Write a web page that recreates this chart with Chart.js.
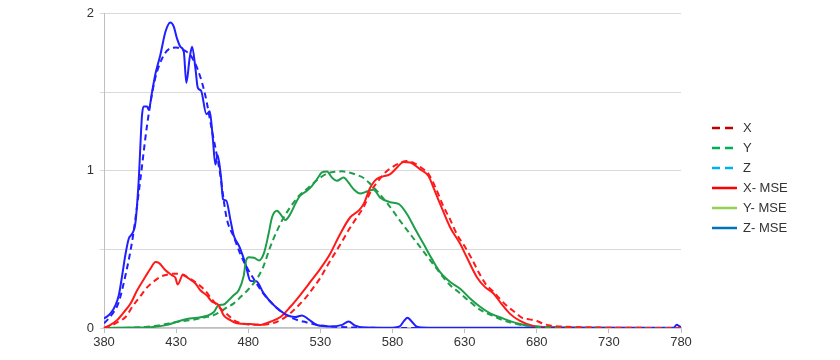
<!DOCTYPE html>
<html>
<head>
<meta charset="utf-8">
<script src="https://cdn.jsdelivr.net/npm/chart.js@4.4.1/dist/chart.umd.min.js"></script>
<style>
html,body{margin:0;padding:0;background:#fff}
#wrap{width:840px;height:360px}
</style>
</head>
<body>
<div id="wrap"><canvas id="chart1" width="840" height="360"></canvas></div>
<script>
// wavelengths (nm) and values
const wlX = [380,385,390,395,400,405,410,415,420,425,430,435,440,445,450,455,460,465,470,475,480,485,490,495,500,505,510,515,520,525,530,535,540,545,550,555,560,565,570,575,580,585,590,595,600,605,610,615,620,625,630,635,640,645,650,655,660,665,670,675,680,685,690,700,720,750,780];
const xBar = [0,0.015,0.04,0.07,0.14,0.2,0.26,0.3,0.33,0.342,0.346,0.336,0.312,0.28,0.24,0.18,0.13,0.09,0.05,0.03,0.022,0.02,0.02,0.026,0.04,0.065,0.1,0.145,0.195,0.255,0.32,0.4,0.475,0.55,0.63,0.7,0.77,0.87,0.935,0.99,1.025,1.05,1.063,1.05,1.02,0.98,0.89,0.78,0.69,0.59,0.52,0.44,0.35,0.275,0.23,0.18,0.135,0.1,0.065,0.055,0.045,0.025,0.015,0.008,0.003,0.001,0];

const wlY = [380,390,400,410,420,430,440,445,450,455,460,465,470,475,480,485,490,495,500,505,510,515,520,525,530,535,540,545,550,555,560,565,570,575,580,585,590,595,600,605,610,615,620,625,630,635,640,645,650,655,660,665,670,680,690,700,720,780];
const yBar = [0,0,0.003,0.008,0.02,0.038,0.05,0.058,0.068,0.078,0.1,0.13,0.157,0.2,0.245,0.3,0.38,0.51,0.62,0.71,0.78,0.84,0.88,0.92,0.958,0.985,0.995,0.997,0.99,0.975,0.955,0.913,0.865,0.81,0.75,0.685,0.625,0.565,0.505,0.445,0.385,0.325,0.272,0.235,0.195,0.157,0.12,0.095,0.075,0.055,0.04,0.028,0.018,0.008,0.004,0.002,0.001,0];

const wlZ = [380,385,390,395,400,405,410,415,420,425,430,435,440,445,450,455,460,465,470,475,480,485,490,495,500,505,510,515,520,525,530,540,550,560,580,780];
const zBar = [0.03,0.08,0.16,0.34,0.58,0.93,1.3,1.57,1.71,1.775,1.785,1.77,1.735,1.645,1.49,1.25,1.01,0.7,0.58,0.46,0.37,0.295,0.225,0.17,0.125,0.09,0.065,0.048,0.037,0.025,0.016,0.008,0.004,0.002,0,0];

const wlXm = [380,384.5,389,393.7,398.4,403,407.6,412.2,415.7,418,422.6,427.2,429.5,431.1,434.8,438.7,443.4,446.8,451.5,454.9,459.5,463,467.6,472.2,481.5,488.4,495.3,502.3,509.2,516,523,530,536.8,543.8,550.7,556.5,560,564.6,568,571.5,578.4,583,587.6,592.3,599.2,604.9,608.4,613,620,626.9,631.5,638.4,644.2,650,655,661.5,668.4,677.6,690,700,780];
const xMse = [0,0.02,0.05,0.1,0.156,0.24,0.31,0.378,0.42,0.415,0.367,0.335,0.32,0.277,0.34,0.315,0.283,0.24,0.205,0.167,0.146,0.08,0.05,0.03,0.025,0.019,0.04,0.07,0.135,0.21,0.293,0.378,0.473,0.6,0.705,0.747,0.79,0.894,0.94,0.96,0.98,1.02,1.057,1.053,1.01,0.968,0.894,0.79,0.64,0.536,0.45,0.325,0.26,0.22,0.16,0.09,0.045,0.013,0.005,0.002,0];

const wlYm = [380,400,412,423.8,430.7,437.6,444.5,451.5,456,459.5,463,466.4,469.9,473.4,476.8,478.5,480.5,484,487.5,491,494.1,496.5,499.9,502.2,505.7,509.2,512.6,516,520.7,524.2,527.6,531.1,534.6,538,541.5,546.1,549.5,553,557.6,562.3,566.8,571.5,578.4,584.2,590,595.7,601.5,607.3,613,620,626.9,633.8,640.7,647.7,656.9,666.2,674,690,780];
const yMse = [0,0.003,0.005,0.02,0.04,0.057,0.065,0.078,0.1,0.146,0.15,0.177,0.209,0.24,0.33,0.43,0.45,0.447,0.43,0.48,0.6,0.705,0.747,0.726,0.688,0.726,0.79,0.842,0.873,0.905,0.947,0.99,0.996,0.958,0.937,0.958,0.926,0.884,0.856,0.869,0.88,0.83,0.8,0.79,0.726,0.63,0.536,0.44,0.356,0.293,0.25,0.188,0.135,0.093,0.06,0.03,0.015,0.005,0];

const wlZm = [380,384.5,388,390.3,392.6,394.9,397.2,399.5,401.8,404,406.4,407.6,409.9,411,413.4,415.7,419.1,422.6,426,428.3,430.7,433,435.3,437.1,439.4,441.1,443.4,445,447.3,451,453.3,455.4,457.2,458.8,461.1,462.5,464.8,467.6,469.9,474,478,481.5,485.6,490.7,497.6,506.9,512.6,517.3,521.8,527.6,536.8,545,549.5,554.2,560,580,585,588,590.4,593,597,605,700,775,777,779,780];
const zMse = [0.06,0.093,0.146,0.21,0.335,0.47,0.57,0.6,0.67,0.93,1.36,1.41,1.41,1.39,1.506,1.62,1.74,1.886,1.945,1.92,1.84,1.79,1.76,1.56,1.72,1.79,1.65,1.53,1.51,1.36,1.38,1.21,1.04,1.1,0.96,0.82,0.81,0.69,0.59,0.515,0.41,0.3,0.297,0.22,0.146,0.082,0.07,0.08,0.055,0.019,0.01,0.02,0.042,0.015,0.003,0.002,0.01,0.045,0.065,0.045,0.008,0.002,0.002,0.002,0.02,0.01,0.005];

const xTicks = [380,430,480,530,580,630,680,730,780];
const yGrid = [0,0.5,1,1.5,2];
const yLabels = [0,1,2];

const legendNames = ["X","Y","Z","X- MSE","Y- MSE","Z- MSE"];
const legendColors = ["#c00000","#00b050","#00b0f0","#ff0000","#92d050","#0070c0"];
const legendDashed = [true,true,true,false,false,false];

const RED = "#ff1a1a", GREEN = "#1f9e4a", BLUE = "#1f1fff";

function pts(wl, v) { return wl.map((w, i) => ({x: w, y: v[i]})); }

// legend drawn at the right like the original
const sideLegend = {
  id: "sideLegend",
  afterDraw(chart) {
    const c = chart.ctx;
    c.save();
    c.font = "13px 'Liberation Sans', Arial, sans-serif";
    c.textBaseline = "middle";
    legendNames.forEach((name, i) => {
      const y = 128 + i * 20;
      c.beginPath();
      c.strokeStyle = legendColors[i];
      c.lineWidth = 2.5;
      c.setLineDash(legendDashed[i] ? [8, 5] : []);
      c.moveTo(712, y);
      c.lineTo(737, y);
      c.stroke();
      c.setLineDash([]);
      c.fillStyle = "#333333";
      c.fillText(name, 743, y);
    });
    c.restore();
  }
};

let ctx1 = document.getElementById("chart1").getContext("2d");
let chart1 = new Chart(ctx1, {
  type: "line",
  data: {
    datasets: [
      {label: "X", data: pts(wlX, xBar), borderColor: RED, borderDash: [6, 4], borderWidth: 2},
      {label: "Y", data: pts(wlY, yBar), borderColor: GREEN, borderDash: [6, 4], borderWidth: 2},
      {label: "Z", data: pts(wlZ, zBar), borderColor: BLUE, borderDash: [6, 4], borderWidth: 2},
      {label: "X- MSE", data: pts(wlXm, xMse), borderColor: RED, borderWidth: 2},
      {label: "Y- MSE", data: pts(wlYm, yMse), borderColor: GREEN, borderWidth: 2},
      {label: "Z- MSE", data: pts(wlZm, zMse), borderColor: BLUE, borderWidth: 2}
    ]
  },
  options: {
    responsive: false,
    animation: false,
    parsing: false,
    elements: {
      point: {radius: 0},
      line: {cubicInterpolationMode: "monotone", fill: false}
    },
    layout: {padding: {top: 12, right: 159, left: 0, bottom: 0}},
    plugins: {legend: {display: false}, tooltip: {enabled: false}},
    scales: {
      x: {
        type: "linear", min: 380, max: 780,
        afterBuildTicks: s => { s.ticks = xTicks.map(v => ({value: v})); },
        afterFit: s => { s.height = 32; },
        grid: {drawOnChartArea: false, drawTicks: true, tickLength: 5, color: "#bfbfbf"},
        border: {color: "#bfbfbf", width: 1.5},
        ticks: {color: "#333", font: {family: "'Liberation Sans', Arial", size: 13}, padding: 2, maxRotation: 0}
      },
      y: {
        min: 0, max: 2,
        afterBuildTicks: s => { s.ticks = yGrid.map(v => ({value: v})); },
        afterFit: s => { s.width = 104; },
        grid: {color: "#d9d9d9", tickLength: 4},
        border: {color: "#bfbfbf"},
        ticks: {
          color: "#333", font: {family: "'Liberation Sans', Arial", size: 13}, padding: 6,
          callback: v => yLabels.includes(v) ? String(v) : ""
        }
      }
    }
  },
  plugins: [sideLegend]
});
</script>
</body>
</html>
